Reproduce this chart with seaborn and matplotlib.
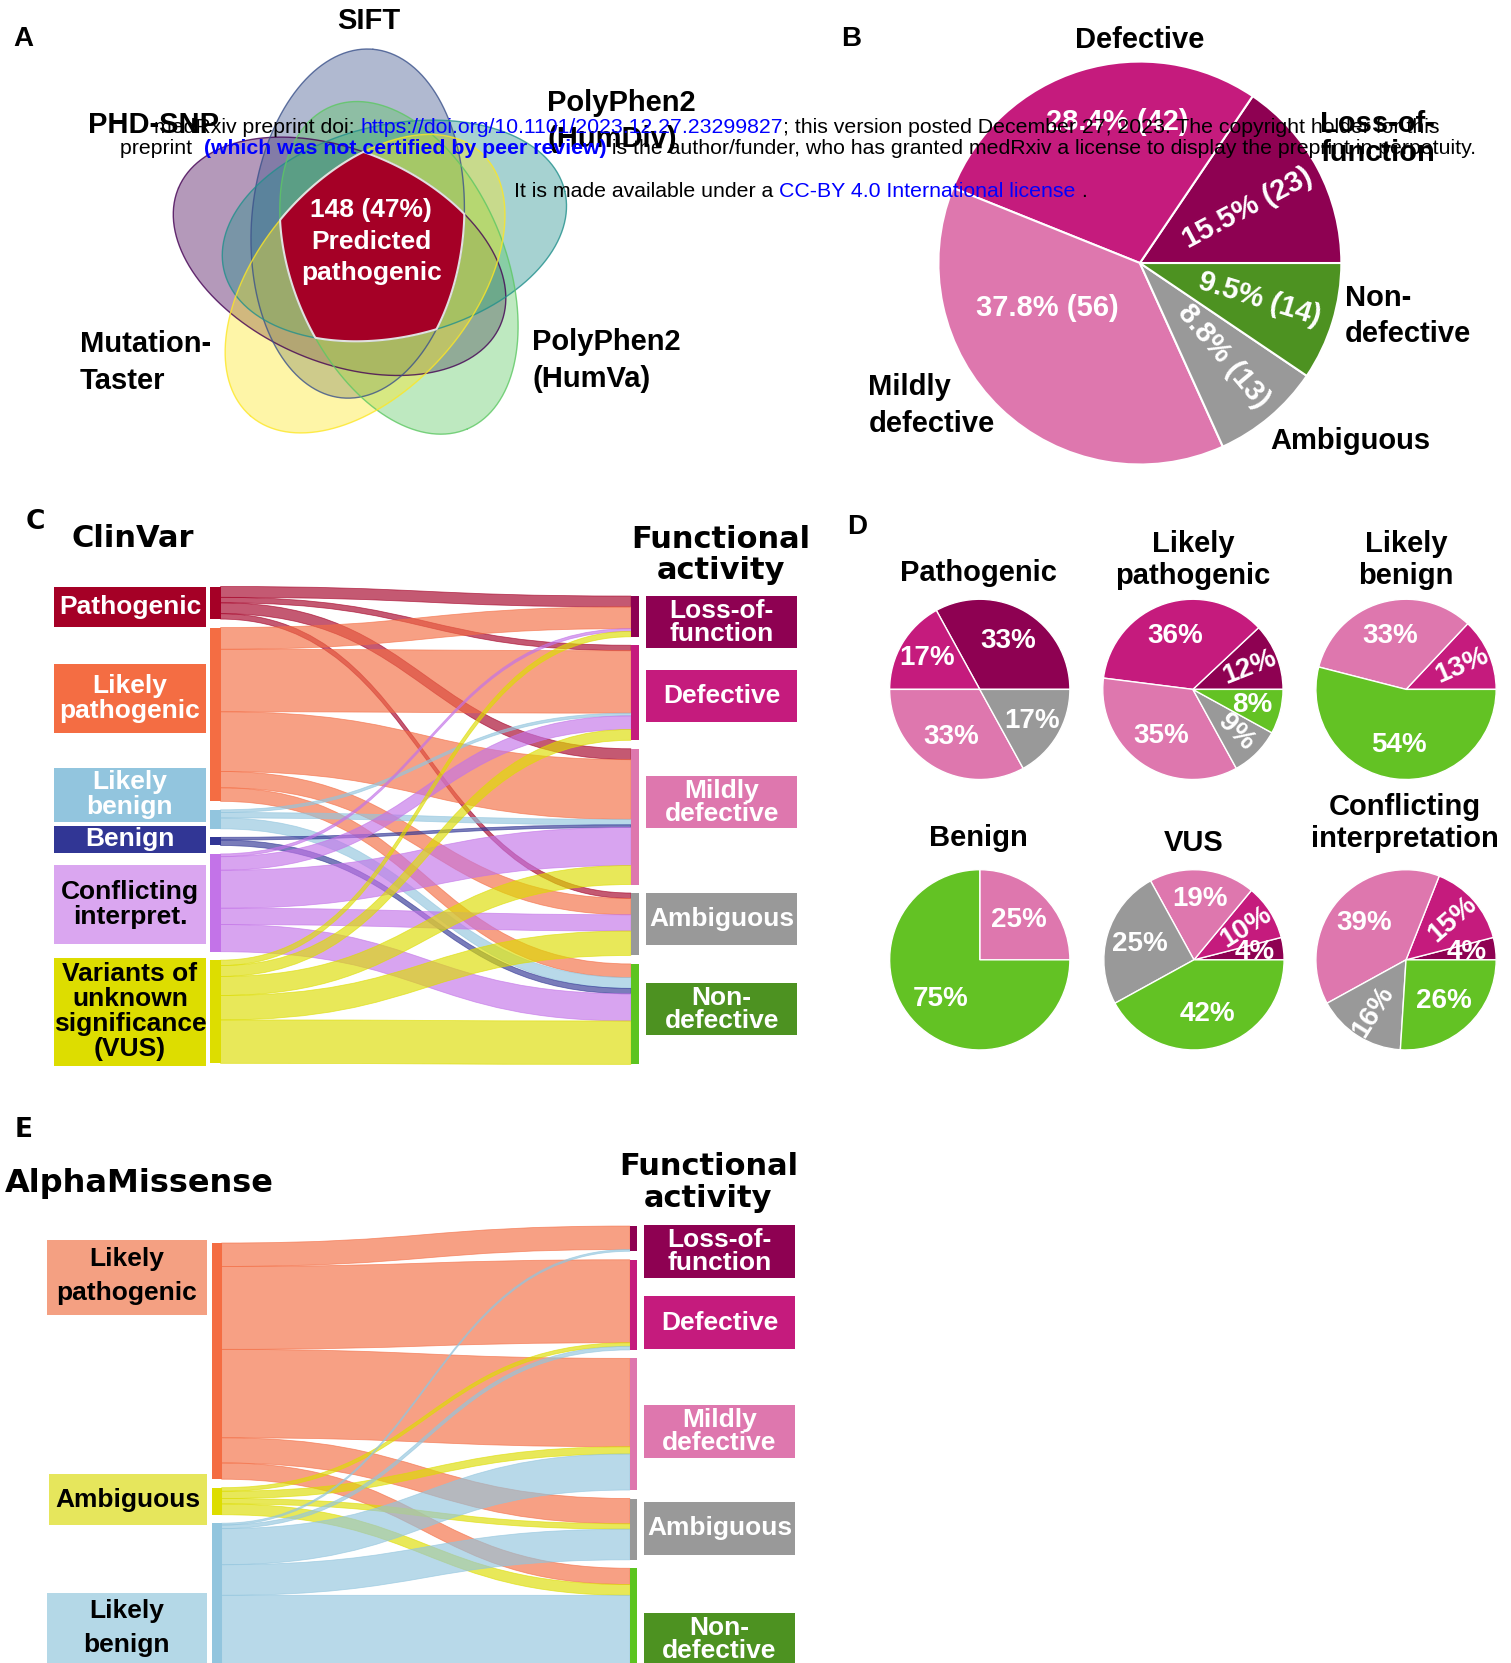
import numpy as np
import matplotlib
matplotlib.use("Agg")
import matplotlib.pyplot as plt
import seaborn as sns
from matplotlib import font_manager
from matplotlib.patches import PathPatch, Rectangle, Polygon
from matplotlib.path import Path

# ---------------------------------------------------------------- data
FUNC_LABELS = ["Loss-of-\nfunction", "Defective", "Mildly\ndefective", "Ambiguous", "Non-\ndefective"]

# A: variants predicted deleterious by all five tools
VENN_TOOLS = ["SIFT", "PolyPhen2\n(HumDiv)", "PolyPhen2\n(HumVa)", "Mutation-\nTaster", "PHD-SNP"]
VENN_CORE_N = 148
VENN_CORE_PCT = 47

# B: functional class of the predicted pathogenic variants
B_COUNTS = [23, 42, 56, 13, 14]
B_PCT = [15.5, 28.4, 37.8, 8.8, 9.5]

# C: ClinVar class -> functional class (columns follow FUNC_LABELS)
CLINVAR_LABELS = ["Pathogenic", "Likely\npathogenic", "Likely\nbenign", "Benign",
                  "Conflicting\ninterpret.", "Variants of\nunknown\nsignificance\n(VUS)"]
CV_PATHOGENIC = [4, 2, 4, 2, 0]
CV_LIKELY_PATH = [8, 23, 22, 6, 5]
CV_LIKELY_BENIGN = [0, 1, 2, 0, 4]
CV_BENIGN = [0, 0, 1, 0, 2]
CV_CONFLICTING = [1, 5, 14, 6, 10]
CV_VUS = [2, 4, 7, 9, 16]

# D: % of each functional class within a ClinVar class
D_TITLES = ["Pathogenic", "Likely\npathogenic", "Likely\nbenign",
            "Benign", "VUS", "Conflicting\ninterpretation"]
D_PATHOGENIC = [33, 17, 33, 17, 0]
D_LIKELY_PATH = [12, 36, 35, 9, 8]
D_LIKELY_BENIGN = [0, 13, 33, 0, 54]
D_BENIGN = [0, 0, 25, 0, 75]
D_VUS = [4, 10, 19, 25, 42]
D_CONFLICTING = [4, 15, 39, 16, 26]

# E: AlphaMissense class -> functional class
AM_LABELS = ["Likely\npathogenic", "Ambiguous", "Likely\nbenign"]
AM_LIKELY_PATH = [13, 46, 49, 14, 9]
AM_AMBIGUOUS = [0, 2, 4, 3, 6]
AM_LIKELY_BENIGN = [1, 2, 20, 17, 55]

# ---------------------------------------------------------------- style
FUNC_COLORS = ["#8E0152", "#C51B7D", "#DE77AE", "#999999", "#4D9221"]
FUNC_BAR_COLORS = ["#8E0152", "#C51B7D", "#DE77AE", "#999999", "#5CC41F"]
D_COLORS = ["#8E0152", "#C51B7D", "#DE77AE", "#999999", "#63C224"]
CV_COLORS = ["#A50026", "#F46D43", "#92C5DE", "#313695", "#C373E8", "#DDDD00"]
CV_BOX = ["#A50026", "#F46D43", "#92C5DE", "#313695", "#DAA6F0", "#DDDD00"]
CV_TEXT = ["white", "white", "white", "white", "black", "black"]
AM_COLORS = ["#F46D43", "#DDDD00", "#92C5DE"]
AM_BOX = ["#F4A082", "#E6E65C", "#B4D8E7"]
VENN_COLORS = ["#3B528B", "#21908C", "#5DC863", "#FDE725", "#440154"]

sns.set_theme(style="white")
installed = {f.name for f in font_manager.fontManager.ttflist}
ARIAL = "Liberation Sans" if "Liberation Sans" in installed else "DejaVu Sans"
plt.rcParams["font.family"] = [ARIAL, "DejaVu Sans"]

W, H = 1425, 1568  # layout grid of the reference, y grows downwards
fig = plt.figure(figsize=(15.11, 16.63), dpi=100)
fig.patch.set_facecolor("white")

base = fig.add_axes([0, 0, 1, 1])
base.set_xlim(0, W)
base.set_ylim(H, 0)
base.axis("off")


def txt(ax, x, y, s, size, color="black", ha="center", family=None, weight="bold", ls=1.2, **kw):
    return ax.text(x, y, s, fontsize=size, color=color, ha=ha, va="center",
                   family=family or ARIAL, fontweight=weight, linespacing=ls, **kw)


# ---------------------------------------------------------------- A: Venn
VENN_C = np.array([350.0, 238.0])
VENN_OFF, VENN_A, VENN_B = 30, 165, 100
VENN_DIRS = [-115, -43, 29, 101, 173]
VENN_TILT = [30, 30, 38, 30, 30]

ellipses = []
for d, tl in zip(VENN_DIRS, VENN_TILT):
    r = np.deg2rad(d)
    c = VENN_C + VENN_OFF * np.array([np.cos(r), np.sin(r)])
    ellipses.append((c, np.deg2rad(d + tl)))

t = np.linspace(0, 2 * np.pi, 300)
for k in [4, 0, 1, 2, 3]:
    c, phi = ellipses[k]
    x = c[0] + VENN_A * np.cos(t) * np.cos(phi) - VENN_B * np.sin(t) * np.sin(phi)
    y = c[1] + VENN_A * np.cos(t) * np.sin(phi) + VENN_B * np.sin(t) * np.cos(phi)
    base.fill(x, y, color=VENN_COLORS[k], alpha=0.4, lw=0)
    base.plot(x, y, color=VENN_COLORS[k], alpha=0.8, lw=1)

# region shared by all five ellipses
rays = np.linspace(0, 2 * np.pi, 720, endpoint=False)
core = []
for a in rays:
    u = np.array([np.cos(a), np.sin(a)])
    best = np.inf
    for c, phi in ellipses:
        rot = np.array([[np.cos(phi), np.sin(phi)], [-np.sin(phi), np.cos(phi)]])
        q = rot @ (VENN_C - c) / [VENN_A, VENN_B]
        v = rot @ u / [VENN_A, VENN_B]
        A, B, Cc = v @ v, 2 * q @ v, q @ q - 1
        best = min(best, (-B + np.sqrt(B * B - 4 * A * Cc)) / (2 * A))
    core.append(VENN_C + best * u)
base.add_patch(Polygon(core, closed=True, fc="#A50026", ec="#E0E0E0", lw=1.5, zorder=5))

# ---------------------------------------------------------------- sankey helper
def sankey(ax, flows, src_cols, tgt_cols, x0, x1, top0, top1, scale, gap, w0, w1, alpha=0.65):
    flows = np.asarray(flows, float)
    sh, th = flows.sum(1) * scale, flows.sum(0) * scale
    sy = top0 + np.concatenate([[0], np.cumsum(sh + gap)[:-1]])
    ty = top1 + np.concatenate([[0], np.cumsum(th + gap)[:-1]])
    so, to = sy.copy(), ty.copy()
    xm = (x0 + x1) / 2
    codes = [Path.MOVETO, Path.CURVE4, Path.CURVE4, Path.CURVE4, Path.LINETO,
             Path.CURVE4, Path.CURVE4, Path.CURVE4, Path.CLOSEPOLY]
    for i in range(flows.shape[0]):
        for j in range(flows.shape[1]):
            h = flows[i, j] * scale
            if h <= 0:
                continue
            verts = [(x0, so[i]), (xm, so[i]), (xm, to[j]), (x1, to[j]),
                     (x1, to[j] + h), (xm, to[j] + h), (xm, so[i] + h), (x0, so[i] + h), (x0, so[i])]
            ax.add_patch(PathPatch(Path(verts, codes), fc=src_cols[i], ec=src_cols[i],
                                   alpha=alpha, lw=0.6, zorder=2))
            so[i] += h
            to[j] += h
    for i in range(len(sh)):
        ax.add_patch(Rectangle((x0 - w0, sy[i]), w0, sh[i], color=src_cols[i], lw=0, zorder=3))
    for j in range(len(th)):
        ax.add_patch(Rectangle((x1, ty[j]), w1, th[j], color=tgt_cols[j], lw=0, zorder=3))


def box(ax, x, y0, y1, w, s, fc, tc, size=19, ls=1.05, ty=None):
    ax.add_patch(Rectangle((x, y0), w, y1 - y0, color=fc, lw=0, zorder=4))
    txt(ax, x + w / 2, (y0 + y1) / 2 if ty is None else ty, s, size, color=tc, ls=ls, zorder=5)


# ---------------------------------------------------------------- C
cv_flows = [CV_PATHOGENIC, CV_LIKELY_PATH, CV_LIKELY_BENIGN, CV_BENIGN, CV_CONFLICTING, CV_VUS]
sankey(base, cv_flows, CV_COLORS, FUNC_BAR_COLORS, 208, 595, 553, 562, 2.56, 8, 10, 8)
C_LEFT_Y = [(553, 591), (626, 691), (724, 775), (779, 804), (816, 890), (903, 1005)]
for (y0, y1), s, fc, tc in zip(C_LEFT_Y, CLINVAR_LABELS, CV_BOX, CV_TEXT):
    box(base, 51, y0, y1, 143, s, fc, tc)
C_RIGHT_Y = [562, 632, 732, 842, 927]
for y0, s, fc in zip(C_RIGHT_Y, FUNC_LABELS, FUNC_COLORS):
    box(base, 609, y0, y0 + 49, 143, s, fc, "white", ls=0.95)

# ---------------------------------------------------------------- E
am_flows = [AM_LIKELY_PATH, AM_AMBIGUOUS, AM_LIKELY_BENIGN]
sankey(base, am_flows, AM_COLORS, FUNC_BAR_COLORS, 209, 594, 1172, 1156, 1.70, 8, 9, 7)
E_LEFT_Y = [(44, 1169, 1240, 1203), (46, 1390, 1438, 1414), (44, 1502, 1600, 1535)]
for (x, y0, y1, ty), s, fc in zip(E_LEFT_Y, AM_LABELS, AM_BOX):
    box(base, x, y0, y1, 195 - x, s, fc, "black", ls=1.55, ty=ty)
E_RIGHT_Y = [1155, 1222, 1325, 1416, 1521]
for y0, s, fc in zip(E_RIGHT_Y, FUNC_LABELS, FUNC_COLORS):
    box(base, 607, y0, y0 + 50, 143, s, fc, "white", ls=0.95)

# ---------------------------------------------------------------- pies
def pie_ax(cx, cy, r):
    return fig.add_axes([(cx - r) / W, 1 - (cy + r) / H, 2 * r / W, 2 * r / H])


def radial(mid):
    m = (mid + 180) % 360 - 180
    return m if -90 < m <= 90 else m - 180


# B
axb = pie_ax(1075, 248, 190)
wb, _ = axb.pie(B_COUNTS, colors=FUNC_COLORS, startangle=0, counterclock=True,
                wedgeprops=dict(edgecolor="white", linewidth=1.5))
axb.set_xlim(-1, 1)
axb.set_ylim(-1, 1)
B_LABEL_POS = [(0.60, 27), (0.71, 99), (0.51, 206), (0.62, -48), (0.62, -17)]
for w, n, p, (rr, ang) in zip(wb, B_COUNTS, B_PCT, B_LABEL_POS):
    mid = (w.theta1 + w.theta2) / 2
    rot = radial(mid) if p < 20 else 0
    a = np.deg2rad(ang)
    axb.text(rr * np.cos(a), rr * np.sin(a), f"{p}% ({n})", color="white", fontsize=21,
             fontweight="bold", ha="center", va="center", rotation=rot, rotation_mode="anchor")

# D
D_VALUES = [D_PATHOGENIC, D_LIKELY_PATH, D_LIKELY_BENIGN, D_BENIGN, D_VUS, D_CONFLICTING]
D_CENTERS = [(924, 650), (1125, 650), (1326, 650), (924, 905), (1126, 905), (1326, 905)]
for vals, (cx, cy) in zip(D_VALUES, D_CENTERS):
    keep = [i for i, v in enumerate(vals) if v > 0]
    axd = pie_ax(cx, cy, 85)
    wd, _ = axd.pie([vals[i] for i in keep], colors=[D_COLORS[i] for i in keep],
                    startangle=0, counterclock=True,
                    wedgeprops=dict(edgecolor="white", linewidth=1.0))
    axd.set_xlim(-1, 1)
    axd.set_ylim(-1, 1)
    for w, i in zip(wd, keep):
        p = vals[i]
        mid = (w.theta1 + w.theta2) / 2
        rot = radial(mid) if 9 <= p <= 16 else 0
        a = np.deg2rad(mid)
        rr = 0.68 if p < 20 else 0.62
        axd.text(rr * np.cos(a), rr * np.sin(a), f"{p}%", color="white", fontsize=20,
                 fontweight="bold", ha="center", va="center", rotation=rot,
                 rotation_mode="anchor", clip_on=False)

# ---------------------------------------------------------------- text layer
top = fig.add_axes([0, 0, 1, 1], zorder=10)
top.set_xlim(0, W)
top.set_ylim(H, 0)
top.axis("off")

# panel letters
txt(top, 22, 37, "A", 20)
txt(top, 803, 37, "B", 20)
txt(top, 33, 492, "C", 19, family="DejaVu Sans")
txt(top, 808, 497, "D", 20)
txt(top, 22, 1065, "E", 19, family="DejaVu Sans")

# A labels
txt(top, 348, 20, VENN_TOOLS[0], 21)
txt(top, 516, 114, VENN_TOOLS[1], 21, ha="left", ls=1.4)
txt(top, 502, 340, VENN_TOOLS[2], 21, ha="left", ls=1.4)
txt(top, 75, 342, VENN_TOOLS[3], 21, ha="left", ls=1.4)
txt(top, 83, 118, VENN_TOOLS[4], 21, ha="left")
txt(base, VENN_C[0], 228, f"{VENN_CORE_N} ({VENN_CORE_PCT}%)\nPredicted\npathogenic", 19,
    color="white", ls=1.4, zorder=6)

# B labels
txt(top, 1075, 38, "Defective", 21)
txt(top, 1245, 131, "Loss-of-\nfunction", 21, ha="left", ls=1.05)
txt(top, 1268, 298, "Non-\ndefective", 21, ha="left", ls=1.4)
txt(top, 1198, 416, "Ambiguous", 21, ha="left")
txt(top, 819, 382, "Mildly\ndefective", 21, ha="left", ls=1.4)

# C / E headers
txt(top, 67, 508, "ClinVar", 22, ha="left", family="DejaVu Sans")
txt(top, 680, 523, "Functional\nactivity", 22, family="DejaVu Sans", ls=1.1)
txt(top, 5, 1116, "AlphaMissense", 23, ha="left", family="DejaVu Sans")
txt(top, 668, 1115, "Functional\nactivity", 22, family="DejaVu Sans", ls=1.1)

# D titles
D_TITLE_POS = [(923, 540), (1125, 528), (1326, 528), (923, 790), (1126, 795), (1325, 776)]
for s, (x, y) in zip(D_TITLES, D_TITLE_POS):
    txt(top, x, y, s, 21, ls=1.15)

# preprint banner drawn over everything
BLUE = "#0000FF"
BANNER = [
    (145, 120, [("medRxiv preprint doi: ", "black", "normal"),
                ("https://doi.org/10.1101/2023.12.27.23299827", BLUE, "normal"),
                ("; this version posted December 27, 2023. The copyright holder for this", "black", "normal")]),
    (113, 140, [("preprint  ", "black", "normal"),
                ("(which was not certified by peer review)", BLUE, "bold"),
                (" is the author/funder, who has granted medRxiv a license to display the preprint in perpetuity.",
                 "black", "normal")]),
    (485, 181, [("It is made available under a ", "black", "normal"),
                ("CC-BY 4.0 International license", BLUE, "normal"),
                (" .", "black", "normal")]),
]
for x, y, parts in BANNER:
    prev = None
    for s, col, wt in parts:
        if prev is None:
            prev = top.text(x, y, s, color=col, fontweight=wt, fontsize=15.3, ha="left",
                            va="center", family=ARIAL, zorder=20)
        else:
            prev = top.annotate(s, xy=(1, 0), xycoords=prev, ha="left", va="bottom", color=col,
                                fontweight=wt, fontsize=15.3, family=ARIAL, zorder=20)

fig.savefig("out.png", dpi=100)
